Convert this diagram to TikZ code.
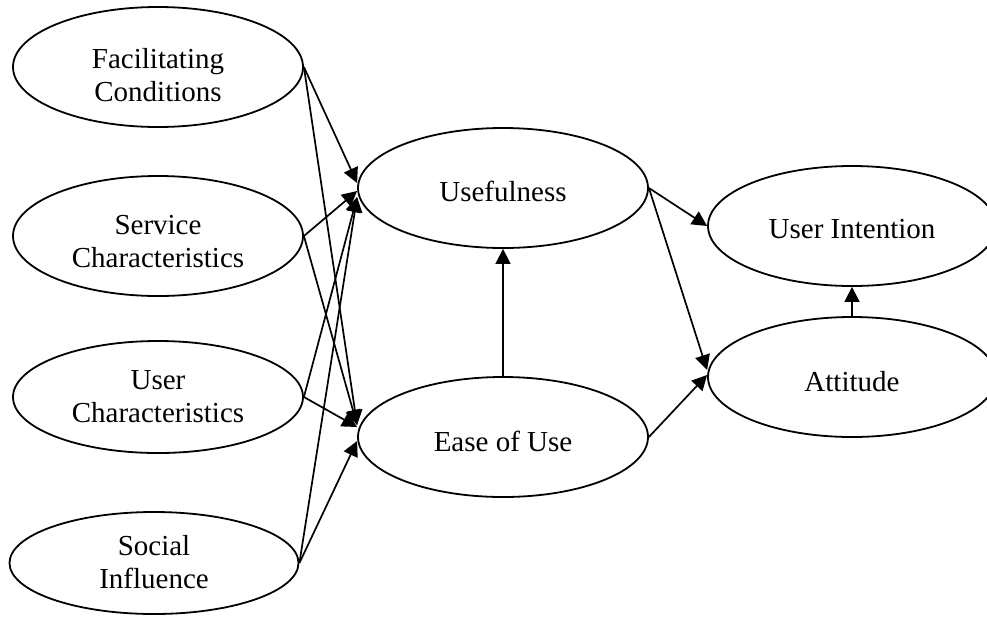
\documentclass[tikz,border=0pt]{standalone}
\usepackage{fontspec}
\setmainfont{Liberation Serif}
\usetikzlibrary{shapes.geometric,arrows.meta}

\begin{document}
\begin{tikzpicture}[x=1pt,y=-1pt,
  construct/.style={ellipse,draw,line width=1.8pt,inner sep=0pt,
    minimum width=290pt,minimum height=120pt},
  caption/.style={align=center,inner sep=0pt,
    font=\fontsize{29}{33}\selectfont},
  arr/.style={line width=1.7pt,-{Triangle[length=15pt,width=15pt]}}]
\useasboundingbox (0,0) rectangle (987,619);
\clip (0,0) rectangle (987,619);

% exogenous factors
\node[construct] (fc) at (158,67) {};
\node[construct] (sc) at (158,236) {};
\node[construct,minimum height=112pt] (uc) at (158,397) {};
\node[construct,minimum width=289pt,minimum height=102pt] (si) at (154,563) {};

% perceived beliefs
\node[construct] (use) at (503,188) {};
\node[construct] (eou) at (503,437) {};

% outcomes
\node[construct,minimum width=288pt] (ui) at (852,226) {};
\node[construct,minimum width=288pt] (att) at (852,377) {};

% construct names
\node[caption] (fc-txt)  at (158,75)  {Facilitating\\Conditions};
\node[caption] (sc-txt)  at (158,242) {Service\\Characteristics};
\node[caption] (uc-txt)  at (158,397) {User\\Characteristics};
\node[caption] (si-txt)  at (154,562) {Social\\Influence};
\node[caption] (use-txt) at (503,191) {Usefulness};
\node[caption] (eou-txt) at (503,441) {Ease of Use};
\node[caption] (ui-txt)  at (852,229) {User Intention};
\node[caption] (att-txt) at (852,382) {Attitude};

% factors -> usefulness
\draw[arr] (fc.east) -- ([yshift=5pt]use.west);
\draw[arr] (sc.east) -- ([yshift=-3pt]use.west);
\draw[arr] (uc.east) -- ([yshift=-9pt]use.west);
\draw[arr] (si.east) -- ([yshift=-9pt]use.west);

% factors -> ease of use
\draw[arr] (fc.east) -- ([yshift=12pt]eou.west);
\draw[arr] (sc.east) -- ([yshift=12pt]eou.west);
\draw[arr] (uc.east) -- ([yshift=10pt]eou.west);
\draw[arr] (si.east) -- ([yshift=-4pt]eou.west);

% beliefs -> outcomes
\draw[arr] (eou.north) -- (use.south);
\draw[arr] (use.east) -- (ui.west);
\draw[arr] (use.east) -- ([yshift=7pt]att.west);
\draw[arr] (eou.east) -- ([yshift=2pt]att.west);
\draw[arr] (att.north) -- (ui.south);
\end{tikzpicture}
\end{document}
